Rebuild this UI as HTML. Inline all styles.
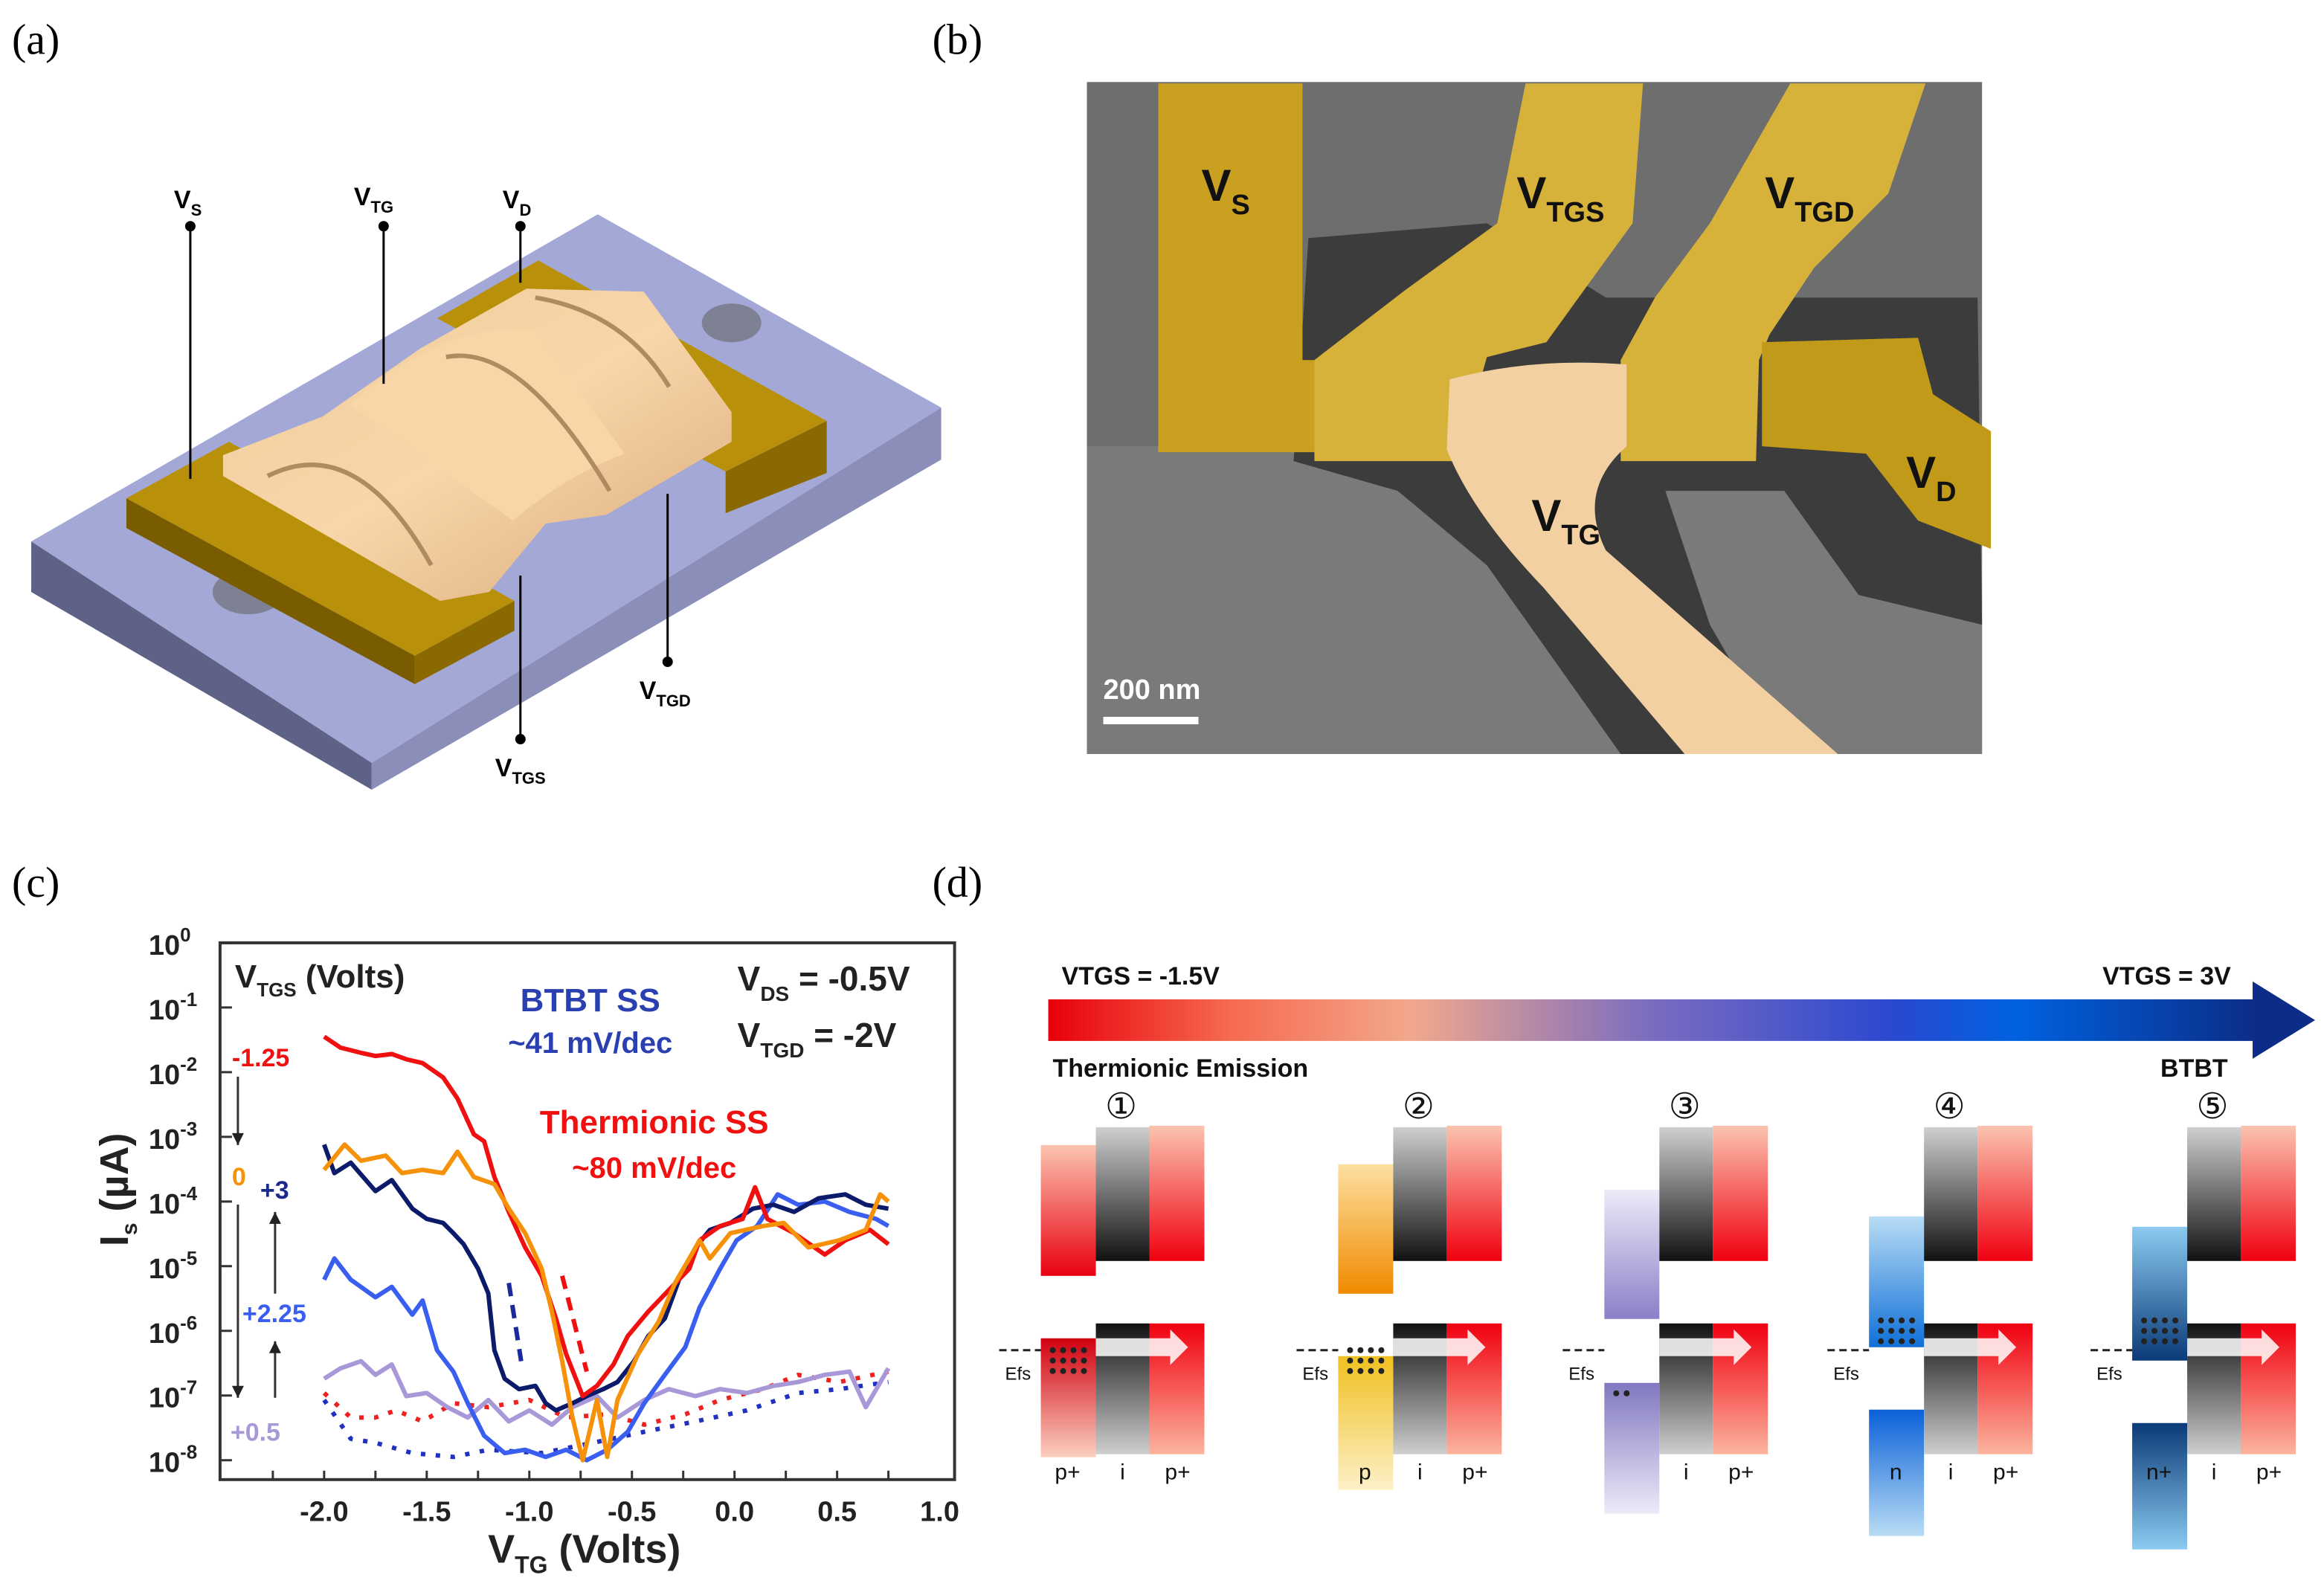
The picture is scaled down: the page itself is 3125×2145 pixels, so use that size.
<!DOCTYPE html>
<html><head><meta charset="utf-8"><style>
html,body{margin:0;padding:0;background:#fff}
svg{display:block}
text{font-family:"Liberation Sans",sans-serif}
.pl{font-family:"Liberation Serif",serif;font-size:29px}
.tk{font-size:19px;font-weight:bold;fill:#222}
</style></head><body>
<svg id="fig" width="3125" height="2145" viewBox="0 0 1563 1072.5" xmlns="http://www.w3.org/2000/svg">
<defs>
<linearGradient id="arrowGrad" x1="0" x2="1" y1="0" y2="0">
<stop offset="0" stop-color="#e8000a"/><stop offset="0.15" stop-color="#f56a50"/><stop offset="0.3" stop-color="#f2a88c"/><stop offset="0.5" stop-color="#7a6cc0"/><stop offset="0.7" stop-color="#2a48d0"/><stop offset="0.8" stop-color="#0062e0"/><stop offset="1" stop-color="#0b2d88"/></linearGradient>
<linearGradient id="gTop" x1="0" x2="0" y1="0" y2="1"><stop offset="0" stop-color="#cfcfcf"/><stop offset="1" stop-color="#111"/></linearGradient>
<linearGradient id="gBot" x1="0" x2="0" y1="0" y2="1"><stop offset="0" stop-color="#111"/><stop offset="1" stop-color="#cfcfcf"/></linearGradient>
<linearGradient id="rTop" x1="0" x2="0" y1="0" y2="1"><stop offset="0" stop-color="#fbc4b0"/><stop offset="1" stop-color="#f00010"/></linearGradient>
<linearGradient id="rBot" x1="0" x2="0" y1="0" y2="1"><stop offset="0" stop-color="#f00010"/><stop offset="1" stop-color="#fbb49e"/></linearGradient>
<linearGradient id="oTop" x1="0" x2="0" y1="0" y2="1"><stop offset="0" stop-color="#fde0a0"/><stop offset="1" stop-color="#f08a00"/></linearGradient>
<linearGradient id="yBot" x1="0" x2="0" y1="0" y2="1"><stop offset="0" stop-color="#f0c020"/><stop offset="1" stop-color="#fdf0c8"/></linearGradient>
<linearGradient id="lTop" x1="0" x2="0" y1="0" y2="1"><stop offset="0" stop-color="#eeeaf8"/><stop offset="1" stop-color="#8a80c8"/></linearGradient>
<linearGradient id="lBot" x1="0" x2="0" y1="0" y2="1"><stop offset="0" stop-color="#8078c0"/><stop offset="1" stop-color="#eeeaf8"/></linearGradient>
<linearGradient id="bTop" x1="0" x2="0" y1="0" y2="1"><stop offset="0" stop-color="#b8dcf4"/><stop offset="1" stop-color="#1070d8"/></linearGradient>
<linearGradient id="bBot" x1="0" x2="0" y1="0" y2="1"><stop offset="0" stop-color="#0a60d8"/><stop offset="1" stop-color="#b8dcf4"/></linearGradient>
<linearGradient id="dTop" x1="0" x2="0" y1="0" y2="1"><stop offset="0" stop-color="#8ccaf0"/><stop offset="1" stop-color="#0a3a78"/></linearGradient>
<linearGradient id="dBot" x1="0" x2="0" y1="0" y2="1"><stop offset="0" stop-color="#0a3a78"/><stop offset="1" stop-color="#8ccaf0"/></linearGradient>
<linearGradient id="p1Top" x1="0" x2="0" y1="0" y2="1"><stop offset="0" stop-color="#fbc4b0"/><stop offset="1" stop-color="#e80010"/></linearGradient>
<linearGradient id="p1Bot" x1="0" x2="0" y1="0" y2="1"><stop offset="0" stop-color="#d00010"/><stop offset="1" stop-color="#fbd0c0"/></linearGradient>
<linearGradient id="tanG" x1="0" x2="1" y1="0" y2="1"><stop offset="0" stop-color="#f0cc9c"/><stop offset="0.5" stop-color="#f8d6aa"/><stop offset="1" stop-color="#d8a878"/></linearGradient>
</defs>

<text class="pl" x="8" y="36">(a)</text>
<text class="pl" x="627" y="36">(b)</text>
<text class="pl" x="8" y="603">(c)</text>
<text class="pl" x="627" y="603">(d)</text>

<!-- panel a -->
<g>
<polygon points="21,364 402,144 633,274 250,513" fill="#a4a8d6"/>
<polygon points="21,364 250,513 250,531 21,398" fill="#5e6286"/>
<polygon points="250,513 633,274 633,309 250,531" fill="#8a8eb8"/>
<ellipse cx="167" cy="398" rx="24" ry="15" fill="#666" opacity="0.6"/>
<ellipse cx="492" cy="217" rx="20" ry="13" fill="#666" opacity="0.6"/>
<polygon points="294,214 362,175 556,283 488,317" fill="#b8900a"/>
<polygon points="488,317 556,283 556,318 488,345" fill="#8a6a00"/>
<polygon points="85,335 154,297 346,404 279,441" fill="#b8900a"/>
<polygon points="85,335 279,441 279,460 85,355" fill="#7a5c00"/>
<polygon points="279,441 346,404 346,424 279,460" fill="#8a6a00"/>
<polygon points="150,306 217,280 283,234 354,194 433,196 492,277 492,297 408,346 367,352 329,398 296,404 150,320" fill="url(#tanG)"/>
<path d="M235,272 Q300,215 360,222 L420,305 Q380,320 345,350 Z" fill="#f8d6a8"/>
<path d="M180,320 Q240,290 290,380" fill="none" stroke="#b08a60" stroke-width="3"/>
<path d="M300,240 Q350,230 410,330" fill="none" stroke="#b08a60" stroke-width="3"/>
<path d="M360,200 Q420,210 450,260" fill="none" stroke="#b08a60" stroke-width="3"/>
</g>
<g font-weight="bold" font-size="17">
<line x1="128" y1="152" x2="128" y2="322" stroke="#000" stroke-width="1.5"/><circle cx="128" cy="152" r="3.5"/>
<text x="117" y="140">V<tspan font-size="11" dy="5">S</tspan></text>
<line x1="258" y1="152" x2="258" y2="258" stroke="#000" stroke-width="1.5"/><circle cx="258" cy="152" r="3.5"/>
<text x="238" y="138">V<tspan font-size="11" dy="5">TG</tspan></text>
<line x1="350" y1="152" x2="350" y2="190" stroke="#000" stroke-width="1.5"/><circle cx="350" cy="152" r="3.5"/>
<text x="338" y="140">V<tspan font-size="11" dy="5">D</tspan></text>
<line x1="350" y1="497" x2="350" y2="387" stroke="#000" stroke-width="1.5"/><circle cx="350" cy="497" r="3.5"/>
<text x="333" y="522">V<tspan font-size="11" dy="5">TGS</tspan></text>
<line x1="449" y1="445" x2="449" y2="332" stroke="#000" stroke-width="1.5"/><circle cx="449" cy="445" r="3.5"/>
<text x="430" y="470">V<tspan font-size="11" dy="5">TGD</tspan></text>
</g>

<!-- panel b -->
<g>
<rect x="731" y="55" width="602" height="452" fill="#6e6e6e"/>
<path d="M731,300 L1333,300 L1333,507 L731,507 Z" fill="#7a7a7a"/>
<path d="M880,160 L1000,150 L1080,200 L1200,200 L1330,200 L1333,420 L1250,400 L1200,330 L1120,330 L1150,420 L1200,507 L1090,507 L1000,380 L940,330 L870,310 Z" fill="#3c3c3c"/>
<polygon points="779,56 876,56 876,242 885,242 884,304 779,304" fill="#c9a020"/>
<polygon points="1026,56 1105,56 1098,150 1074,183 1040,230 1000,240 980,310 884,310 884,242 945,195 1007,150" fill="#d6b23a"/>
<polygon points="1204,56 1295,56 1270,130 1220,180 1190,225 1183,242 1181,310 1090,310 1090,242 1113,200 1150,150" fill="#d6b23a"/>
<polygon points="1185,230 1290,227 1300,265 1339,290 1339,369 1290,350 1255,305 1185,300" fill="#c09a18"/>
<path d="M975,255 Q1030,240 1094,245 L1094,300 Q1060,330 1080,370 L1236,507 L1133,507 L1038,395 Q990,345 973,302 Z" fill="#f2d0a2"/>
<g fill="#111" font-weight="bold" font-size="30">
<text x="808" y="135">V<tspan font-size="19" dy="9">S</tspan></text>
<text x="1020" y="140">V<tspan font-size="19" dy="9">TGS</tspan></text>
<text x="1187" y="140">V<tspan font-size="19" dy="9">TGD</tspan></text>
<text x="1282" y="328">V<tspan font-size="19" dy="9">D</tspan></text>
<text x="1030" y="357">V<tspan font-size="19" dy="9">TG</tspan></text>
</g>
<text x="742" y="470" fill="#fff" font-size="19" font-weight="bold">200 nm</text>
<rect x="742" y="482" width="64" height="5" fill="#fff"/>
</g>

<g id="chart"></g>

<!-- panel d -->
<g>
<rect x="705" y="672" width="812" height="28" fill="url(#arrowGrad)"/>
<polygon points="1515,660 1557,686 1515,712" fill="#0b2d88"/>
<g font-weight="bold" font-size="17" fill="#111">
<text x="714" y="662">VTGS = -1.5V</text>
<text x="1414" y="662">VTGS = 3V</text>
<text x="708" y="724">Thermionic Emission</text>
<text x="1453" y="724">BTBT</text>
</g>
<g id="bands"></g>
</g>
</svg>
<script>
const xTicks = [-2.0,-1.5,-1.0,-0.5,0.0,0.5,1.0];
const yTickExp = [0,-1,-2,-3,-4,-5,-6,-7,-8];
const redV = [-2.00,-1.92,-1.82,-1.75,-1.67,-1.60,-1.52,-1.42,-1.35,-1.27,-1.22,-1.17,-1.10,-1.02,-0.94,-0.87,-0.82,-0.74,-0.67,-0.59,-0.52,-0.42,-0.32,-0.22,-0.17,-0.07,0.04,0.10,0.16,0.29,0.44,0.54,0.66,0.75];
const redL = [-1.45,-1.62,-1.70,-1.75,-1.72,-1.80,-1.86,-2.08,-2.41,-2.96,-3.07,-3.62,-4.16,-4.71,-5.15,-5.81,-6.36,-7.01,-6.85,-6.52,-6.08,-5.70,-5.37,-5.04,-4.60,-4.38,-4.27,-3.78,-4.27,-4.49,-4.82,-4.60,-4.44,-4.66];
const orangeV = [-2.00,-1.90,-1.82,-1.70,-1.62,-1.52,-1.42,-1.35,-1.27,-1.17,-1.10,-1.02,-0.94,-0.89,-0.84,-0.79,-0.74,-0.67,-0.62,-0.57,-0.47,-0.37,-0.29,-0.22,-0.17,-0.12,-0.02,0.14,0.24,0.36,0.51,0.64,0.71,0.75];
const orangeL = [-3.51,-3.12,-3.37,-3.29,-3.56,-3.51,-3.56,-3.23,-3.62,-3.73,-4.11,-4.49,-5.04,-5.70,-6.47,-7.34,-8.00,-7.07,-7.95,-7.07,-6.36,-5.86,-5.26,-4.88,-4.60,-4.88,-4.49,-4.38,-4.33,-4.71,-4.60,-4.44,-3.89,-4.00];
const navyV = [-2.00,-1.95,-1.87,-1.75,-1.67,-1.57,-1.50,-1.42,-1.37,-1.32,-1.25,-1.20,-1.17,-1.12,-1.05,-0.97,-0.92,-0.87,-0.79,-0.72,-0.64,-0.57,-0.49,-0.42,-0.34,-0.27,-0.19,-0.12,-0.02,0.09,0.19,0.29,0.41,0.54,0.64,0.75];
const navyL = [-3.12,-3.56,-3.40,-3.84,-3.67,-4.11,-4.27,-4.33,-4.49,-4.66,-5.04,-5.42,-6.30,-6.74,-6.90,-6.85,-7.12,-7.23,-7.12,-7.01,-6.90,-6.79,-6.47,-6.08,-5.81,-5.21,-4.71,-4.44,-4.33,-4.11,-4.05,-4.16,-3.95,-3.89,-4.05,-4.11];
const blueV = [-2.00,-1.95,-1.87,-1.75,-1.67,-1.57,-1.52,-1.45,-1.37,-1.30,-1.22,-1.12,-1.02,-0.92,-0.82,-0.72,-0.62,-0.52,-0.44,-0.34,-0.24,-0.17,-0.07,0.01,0.11,0.21,0.31,0.44,0.56,0.69,0.75];
const blueL = [-5.21,-4.88,-5.21,-5.48,-5.32,-5.75,-5.53,-6.30,-6.63,-7.12,-7.62,-7.89,-7.84,-7.95,-7.84,-8.00,-7.84,-7.56,-7.12,-6.68,-6.25,-5.64,-5.04,-4.60,-4.38,-3.89,-4.05,-4.00,-4.16,-4.27,-4.38];
const lavV = [-2.00,-1.92,-1.82,-1.75,-1.67,-1.60,-1.50,-1.40,-1.30,-1.20,-1.10,-1.00,-0.89,-0.79,-0.67,-0.57,-0.44,-0.32,-0.19,-0.07,0.06,0.19,0.31,0.44,0.56,0.64,0.75];
const lavL = [-6.74,-6.58,-6.47,-6.68,-6.52,-7.01,-6.96,-7.18,-7.34,-7.07,-7.40,-7.23,-7.45,-7.18,-7.01,-7.34,-7.07,-6.90,-7.01,-6.90,-6.96,-6.85,-6.79,-6.68,-6.63,-7.18,-6.58];
const redDotV = [-2.00,-1.87,-1.75,-1.65,-1.52,-1.37,-1.20,-1.00,-0.82,-0.62,-0.44,-0.24,-0.07,0.14,0.31,0.51,0.75];
const redDotL = [-6.96,-7.34,-7.34,-7.23,-7.40,-7.12,-7.18,-7.07,-7.34,-7.29,-7.45,-7.29,-7.07,-6.90,-6.68,-6.79,-6.63];
const blueDotV = [-2.00,-1.87,-1.75,-1.57,-1.37,-1.20,-0.94,-0.69,-0.44,-0.19,0.06,0.31,0.51,0.75];
const blueDotL = [-7.07,-7.67,-7.73,-7.89,-7.95,-7.84,-7.89,-7.73,-7.56,-7.40,-7.23,-6.96,-6.90,-6.79];
const navyDashV = [-1.10,-1.04];
const navyDashL = [-5.26,-6.47];
const redDashV = [-0.84,-0.72];
const redDashL = [-5.15,-6.63];

const NS = "http://www.w3.org/2000/svg";
const X0 = 218, XS = 138, Y0 = 634, YS = 43.5;
function xs(v){ return X0 + (v + 2) * XS; }
function ys(l){ return Y0 - l * YS; }
function mk(tag, attrs, parent){
  const e = document.createElementNS(NS, tag);
  for (const k in attrs) e.setAttribute(k, attrs[k]);
  parent.appendChild(e);
  return e;
}
const chart = document.getElementById('chart');
const YB = ys(-8.3);
const frame = mk('rect', {x:148, y:Y0, width:494, height:YB-Y0, fill:'none', stroke:'#333', 'stroke-width':2}, chart);


for (let i = 0; i < xTicks.length; i++) {
  const v = xTicks[i];
  const t = mk('text', {x:xs(v), y:1023, 'text-anchor':'middle', class:'tk'}, chart);
  t.textContent = v.toFixed(1);
  
  
}
for (let v = -2.25; v <= 0.76; v += 0.25) {
  mk('line', {x1:xs(v), x2:xs(v), y1:YB, y2:YB-6, stroke:'#333', 'stroke-width':1.5}, chart);
}
for (let i = 0; i < yTickExp.length; i++) {
  const e = yTickExp[i];
  const t = mk('text', {x:100, y:ys(e)+8, class:'tk'}, chart);
  t.textContent = '10';
  const s = mk('tspan', {dy:-9, 'font-size':13}, t);
  s.textContent = String(e);
  
  
  mk('line', {x1:148, x2:156, y1:ys(e), y2:ys(e), stroke:'#333', 'stroke-width':1.5}, chart);
}
function series(V, L, color, name, dash, w){
  let d = '';
  for (let i = 0; i < V.length; i++) d += (i ? 'L' : 'M') + xs(V[i]).toFixed(1) + ',' + ys(L[i]).toFixed(1);
  const p = mk('path', {d:d, fill:'none', stroke:color, 'stroke-width':w || 3, 'stroke-linejoin':'round'}, chart);
  if (dash) p.setAttribute('stroke-dasharray', dash);
  
  
}
series(redDotV, redDotL, '#f02020', 'series-vtgs-m1.25-dotted', '3,7', 3);
series(blueDotV, blueDotL, '#2030c0', 'series-vtgs-3-dotted', '3,7', 3);
series(lavV, lavL, '#a898d8', 'series-vtgs-0.5');
series(blueV, blueL, '#3a5ef0', 'series-vtgs-2.25');
series(navyV, navyL, '#0c1a6a', 'series-vtgs-3');
series(redV, redL, '#f01010', 'series-vtgs-m1.25');
series(orangeV, orangeL, '#f5920a', 'series-vtgs-0');
series(navyDashV, navyDashL, '#1a2a9a', 'btbt-ss-dash', '9,6', 3);
series(redDashV, redDashL, '#f01010', 'thermionic-ss-dash', '9,6', 3);

function txt(x, y, s, color, size, name, anchor){
  const t = mk('text', {x:x, y:y, fill:color, 'font-size':size, 'font-weight':'bold'}, chart);
  if (anchor) t.setAttribute('text-anchor', anchor);
  t.innerHTML = s;
  
  
  return t;
}
txt(158, 664, 'V<tspan font-size="13" dy="6">TGS</tspan><tspan dy="-6"> (Volts)</tspan>', '#222', 22, 'legend-title');
txt(397, 680, 'BTBT SS', '#2a3fb0', 22, 'btbt-ss-label', 'middle');
txt(397, 708, '~41 mV/dec', '#2a3fb0', 20, 'btbt-ss-value', 'middle');
txt(496, 666, 'V<tspan font-size="14" dy="7">DS</tspan><tspan dy="-7"> = -0.5V</tspan>', '#222', 23, 'vds-label');
txt(496, 704, 'V<tspan font-size="14" dy="7">TGD</tspan><tspan dy="-7"> = -2V</tspan>', '#222', 23, 'vtgd-label');
txt(440, 762, 'Thermionic SS', '#f01010', 22, 'thermionic-ss-label', 'middle');
txt(440, 792, '~80 mV/dec', '#f01010', 20, 'thermionic-ss-value', 'middle');
txt(156, 717, '-1.25', '#f01010', 17, 'legend-m1.25');
txt(156, 797, '0', '#f5920a', 17, 'legend-0');
txt(175, 806, '+3', '#1a2a8a', 17, 'legend-3');
txt(163, 889, '+2.25', '#3a5ef0', 17, 'legend-2.25');
txt(155, 969, '+0.5', '#a898d8', 17, 'legend-0.5');
function arr(x, y1, y2){
  mk('line', {x1:x, x2:x, y1:y1, y2:y2, stroke:'#333', 'stroke-width':1.5}, chart);
  const dir = y2 > y1 ? 1 : -1;
  mk('polygon', {points:(x-4)+','+(y2-8*dir)+' '+(x+4)+','+(y2-8*dir)+' '+x+','+y2, fill:'#222'}, chart);
}
arr(160, 724, 770); arr(160, 810, 940); arr(185, 870, 815); arr(185, 940, 902);
const yl = txt(0, 0, 'I<tspan font-size="15" dy="6">s</tspan><tspan dy="-6"> (µA)</tspan>', '#222', 27, 'y-axis-title', 'middle');
yl.setAttribute('transform', 'translate(86,800) rotate(-90)');
txt(393, 1051, 'V<tspan font-size="16" dy="7">TG</tspan><tspan dy="-7"> (Volts)</tspan>', '#222', 27, 'x-axis-title', 'middle');

const bands = document.getElementById('bands');
const groups = [
  {m:737, lt:[770,88,'p1Top'], lb:[900,80,'p1Bot'], lab:'p+', num:'①'},
  {m:937, lt:[783,87,'oTop'], lb:[912,90,'yBot'], lab:'p', num:'②'},
  {m:1116, lt:[800,87,'lTop'], lb:[930,88,'lBot'], lab:'', num:'③'},
  {m:1294, lt:[818,88,'bTop'], lb:[948,85,'bBot'], lab:'n', num:'④'},
  {m:1471, lt:[825,90,'dTop'], lb:[957,85,'dBot'], lab:'n+', num:'⑤'}
];
groups.forEach((g, i) => {
  const G = mk('g', {}, bands);
  
  
  const L = g.m - 37;
  mk('rect', {x:L, y:g.lt[0], width:37, height:g.lt[1], fill:'url(#'+g.lt[2]+')'}, G);
  mk('rect', {x:L, y:g.lb[0], width:37, height:g.lb[1], fill:'url(#'+g.lb[2]+')'}, G);
  mk('rect', {x:g.m, y:758, width:36, height:90, fill:'url(#gTop)'}, G);
  mk('rect', {x:g.m, y:890, width:36, height:88, fill:'url(#gBot)'}, G);
  mk('rect', {x:g.m+36, y:757, width:37, height:91, fill:'url(#rTop)'}, G);
  mk('rect', {x:g.m+36, y:890, width:37, height:88, fill:'url(#rBot)'}, G);
  mk('line', {x1:L-28, x2:L, y1:908, y2:908, stroke:'#222', 'stroke-width':1.5, 'stroke-dasharray':'5,3'}, G);
  mk('polygon', {points:(g.m)+',900 '+(g.m+50)+',900 '+(g.m+50)+',894 '+(g.m+62)+',906 '+(g.m+50)+',918 '+(g.m+50)+',912 '+(g.m)+',912', fill:'#fff', opacity:0.85}, G);
  const n = mk('text', {x:g.m+17, y:752, 'text-anchor':'middle', 'font-size':24, fill:'#111'}, G);
  n.textContent = g.num;
  const ef = mk('text', {x:L-24, y:928, 'font-size':12, fill:'#111'}, G);
  ef.textContent = 'Efs';
  const l1 = mk('text', {x:L+18, y:995, 'text-anchor':'middle', 'font-size':15, fill:'#111'}, G);
  l1.textContent = g.lab;
  const l2 = mk('text', {x:g.m+18, y:995, 'text-anchor':'middle', 'font-size':15, fill:'#111'}, G);
  l2.textContent = 'i';
  const l3 = mk('text', {x:g.m+55, y:995, 'text-anchor':'middle', 'font-size':15, fill:'#111'}, G);
  l3.textContent = 'p+';
  const nd = i === 2 ? 1 : 3;
  for (let r = 0; r < nd; r++) for (let c = 0; c < (i === 2 ? 2 : 4); c++) {
    const cy = i === 2 ? 937 : (i >= 3 ? 888 : 908) + r*7;
    mk('circle', {cx:L+8+c*7, cy:cy, r:2, fill:'#222'}, G);
  }
});
</script>
</body></html>
